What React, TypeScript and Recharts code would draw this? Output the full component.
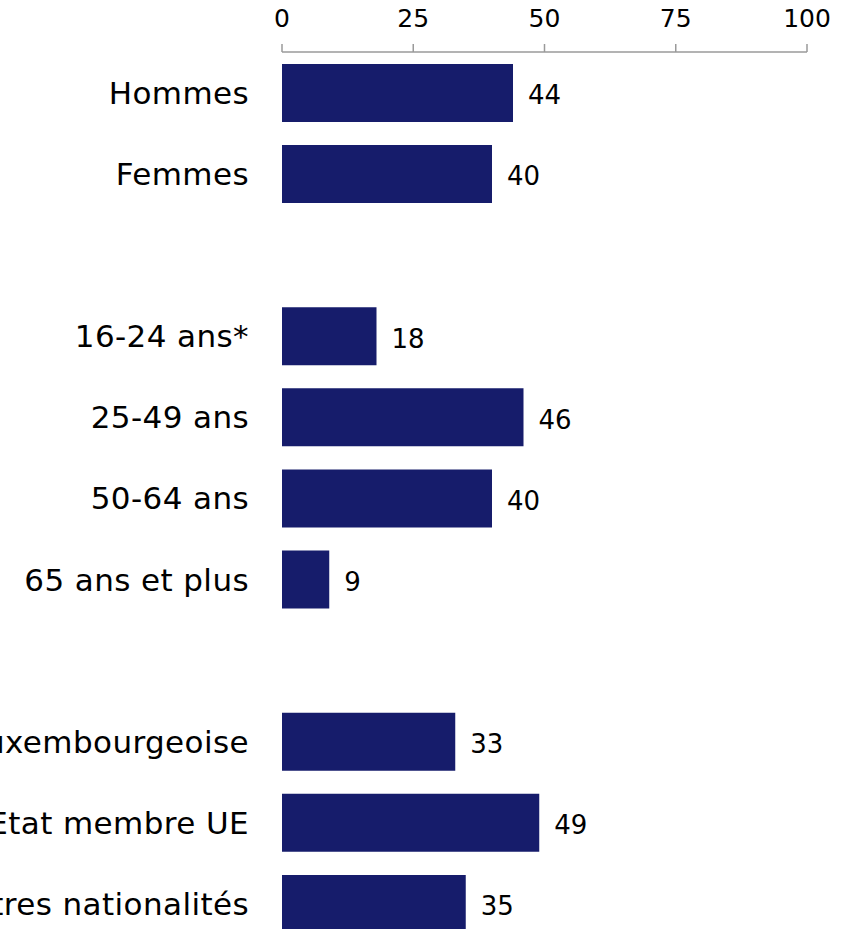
import { BarChart, Bar, XAxis, YAxis, LabelList } from 'recharts'

// Groupes : sexe, âge, nationalité (lignes vides entre les groupes)
const categories = [
  'Hommes',
  'Femmes',
  '',
  '16-24 ans*',
  '25-49 ans',
  '50-64 ans',
  '65 ans et plus',
  ' ',
  'Luxembourgeoise',
  'Autre Etat membre UE',
  'Autres nationalités',
]
const values: (number | null)[] = [44, 40, null, 18, 46, 40, 9, null, 33, 49, 35]
const xTicks = [0, 25, 50, 75, 100]

const data = categories.map((name, i) => ({ name, value: values[i] }))

const BAR_COLOR = '#161c6b'
const AXIS_COLOR = '#9a9a9a'

function CategoryTick(props: any) {
  const { x, y, payload } = props
  return (
    <text x={x} y={y} dy="0.37em" textAnchor="end" fill="#000" fontSize={31} letterSpacing={0.4}>
      {payload.value}
    </text>
  )
}

export default function App() {
  return (
    <div
      style={{
        position: 'absolute',
        left: 0,
        top: 0,
        width: 841,
        height: 929,
        overflow: 'hidden',
        background: '#fff',
        fontFamily: '"DejaVu Sans", Verdana, sans-serif',
      }}
    >
      <BarChart
        width={841}
        height={944}
        data={data}
        layout="vertical"
        margin={{ top: 0, right: 34, bottom: 0, left: 0 }}
      >
        <XAxis
          type="number"
          orientation="top"
          domain={[0, 100]}
          ticks={xTicks}
          height={52}
          tickSize={8}
          tickMargin={17}
          stroke={AXIS_COLOR}
          strokeWidth={1.5}
          tick={{ fill: '#000', fontSize: 25 }}
          interval={0}
        />
        <YAxis
          type="category"
          dataKey="name"
          width={282}
          axisLine={false}
          tickLine={false}
          tickSize={0}
          tickMargin={33}
          tick={<CategoryTick />}
          interval={0}
        />
        <Bar dataKey="value" fill={BAR_COLOR} barSize={58} isAnimationActive={false}>
          <LabelList
            dataKey="value"
            position="right"
            offset={15}
            fill="#000"
            fontSize={26}
            dy={2}
          />
        </Bar>
      </BarChart>
    </div>
  )
}
